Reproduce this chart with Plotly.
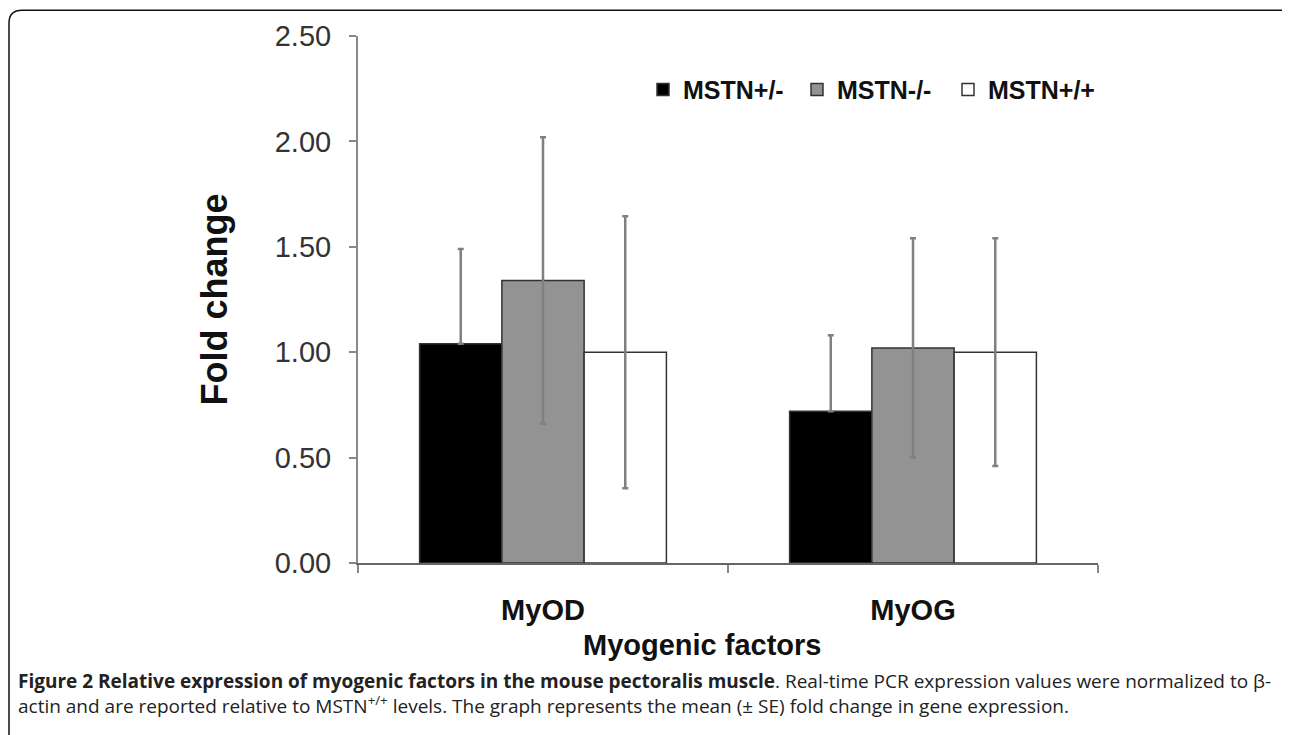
import plotly.graph_objects as go

categories = ["MyOD", "MyOG"]
category_labels = ["<b>MyOD</b>", "<b>MyOG</b>"]
series_names = ["MSTN+/-", "MSTN-/-", "MSTN+/+"]
het_values = [1.04, 0.72]
het_errors = [0.45, 0.36]
het_errors_minus = [0.0, 0.0]
ko_values = [1.34, 1.02]
ko_errors = [0.68, 0.52]
wt_values = [1.00, 1.00]
wt_errors = [0.645, 0.54]
y_ticks = [0.0, 0.5, 1.0, 1.5, 2.0, 2.5]
y_tick_labels = ["0.00", "0.50", "1.00", "1.50", "2.00", "2.50"]

# screen geometry (page has an 8px body margin)
OFF = 8
SW, SH = 1290, 735
L, R, T, B = 358, 1098, 33, 563

def px(xp):
    return (xp - L) / (R - L)

def py(yp):
    return (B - yp) / (B - T)

fills = ["#000000", "#939393", "#ffffff"]
vals = [het_values, ko_values, wt_values]
errs = [het_errors, ko_errors, wt_errors]
errs_minus = [het_errors_minus, ko_errors, wt_errors]
legend_ids = ["legend", "legend2", "legend3"]
legend_x = [643, 797, 948]

bold_font = dict(family="Liberation Sans, Arial, sans-serif", weight="bold", color="#111111")

fig = go.Figure()
for name, v, e, em, c, lid in zip(series_names, vals, errs, errs_minus, fills, legend_ids):
    fig.add_trace(go.Bar(
        x=categories, y=v, name=name, legend=lid,
        marker=dict(color=c, line=dict(color="#333333", width=1.5)),
        error_y=dict(type="data", array=e, arrayminus=em, visible=True, color="#808080",
                     thickness=2.5, width=3),
    ))

legend_common = dict(orientation="h", yanchor="middle", xanchor="left",
                     font=dict(size=25, **bold_font), bgcolor="rgba(0,0,0,0)")

fig.update_layout(
    width=SW - OFF, height=SH - OFF,
    margin=dict(l=L - OFF, r=SW - R, t=T - OFF, b=SH - B, pad=0),
    paper_bgcolor="white", plot_bgcolor="white",
    barmode="group", bargap=0.333, bargroupgap=0,
    font=dict(family="Liberation Sans, Arial, sans-serif", color="#222222"),
    showlegend=True,
    legend=dict(x=px(legend_x[0]), y=py(87), **legend_common),
    legend2=dict(x=px(legend_x[1]), y=py(87), **legend_common),
    legend3=dict(x=px(legend_x[2]), y=py(87), **legend_common),
)
fig.update_yaxes(
    range=[0, 2.5], tickvals=y_ticks, ticktext=y_tick_labels,
    showline=True, linecolor="#888888", linewidth=2,
    ticks="outside", ticklen=7, tickwidth=2, tickcolor="#888888",
    showgrid=False, zeroline=False,
    tickfont=dict(size=29, color="#333333"),
    ticklabelstandoff=12,
    title=dict(text="Fold change", font=dict(size=36, **bold_font), standoff=36),
)
fig.update_xaxes(
    tickvals=categories, ticktext=category_labels,
    showline=True, linecolor="#666666", linewidth=2,
    ticks="outside", tickson="boundaries", ticklen=8, tickwidth=2, tickcolor="#888888",
    showgrid=False,
    tickfont=dict(size=29, color="#111111"),
    ticklabelstandoff=20,
)

# x-axis title
fig.add_annotation(text="<b>Myogenic factors</b>", x=px(702), y=py(645), xref="paper", yref="paper",
                   showarrow=False, font=dict(size=29, color="#111111"), xanchor="center", yanchor="middle")

# caption
caption = ("<b>Figure 2 Relative expression of myogenic factors in the mouse pectoralis muscle</b>. "
           "Real-time PCR expression values were normalized to β-<br>"
           "actin and are reported relative to MSTN<sup>+/+</sup> levels. "
           "The graph represents the mean (± SE) fold change in gene expression.")
fig.add_annotation(text=caption, x=px(16), y=py(667), xref="paper", yref="paper",
                   showarrow=False, align="left", xanchor="left", yanchor="top",
                   font=dict(size=19, color="#222222", family="Open Sans, sans-serif"))

# frame
path = (f"M {px(9)},{py(760)} L {px(9)},{py(20)} "
        f"Q {px(9)},{py(7)} {px(22)},{py(7)} L {px(1283)},{py(7)} L {px(1286)},{py(10)}")
fig.add_shape(type="path", path=path, xref="paper", yref="paper",
              line=dict(color="#111111", width=1.5))

fig.write_html("out.html")
